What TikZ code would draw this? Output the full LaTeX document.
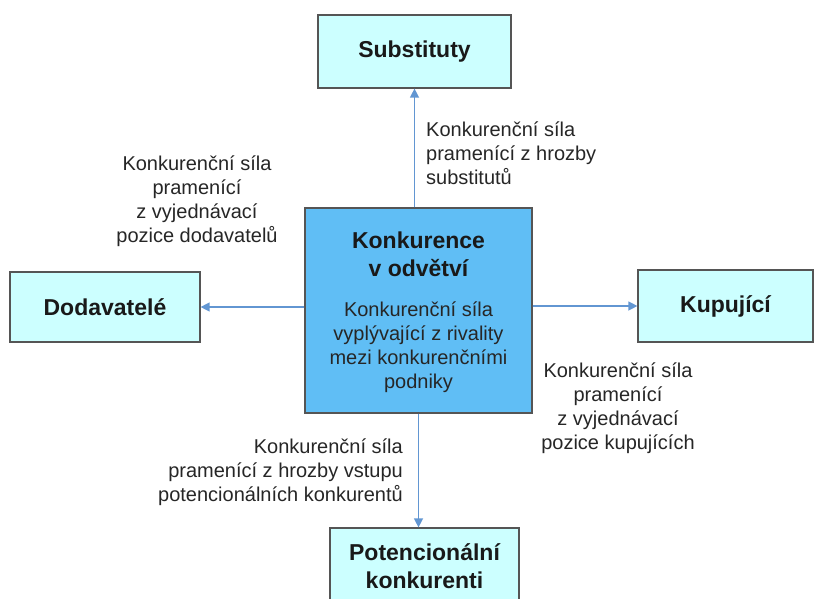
\documentclass[tikz,border=0pt]{standalone}
\usepackage{fontspec}
\setmainfont{Liberation Sans}
\usetikzlibrary{arrows.meta}
\definecolor{boxcyan}{RGB}{204,255,255}
\definecolor{hubblue}{RGB}{96,190,245}
\definecolor{arrowblue}{RGB}{98,150,210}
\definecolor{edgegray}{RGB}{85,85,85}
\tikzstyle{force}=[rectangle, draw=edgegray, line width=1.2pt, fill=boxcyan, text=black!90, font=\bfseries\fontsize{23}{28}\selectfont, align=center]
\tikzstyle{hub}=[rectangle, draw=edgegray, line width=1.2pt, fill=hubblue]
\tikzstyle{note}=[font=\fontsize{20}{24}\selectfont, text=black!85, inner sep=0pt]
\tikzstyle{pull}=[-{Triangle[length=9pt,width=9pt]}, draw=arrowblue, fill=arrowblue, line width=1.3pt]

\begin{document}
\begin{tikzpicture}[x=1pt,y=-1pt]
  \useasboundingbox (0,0) rectangle (816,599);
  % the five forces
  \node[force, minimum width=193pt, minimum height=73pt] (subst) at (414.5,51.5) {Substituty};
  \node[force, minimum width=190pt, minimum height=70pt] (dodav) at (105,307) {Dodavatelé};
  \node[force, minimum width=175pt, minimum height=72pt] (kupuj) at (725.5,306) {Kupující};
  \node[force, minimum width=189pt, minimum height=76pt] (potenc) at (424.5,566) {Potencionální\\konkurenti};
  \node[hub, minimum width=227pt, minimum height=205pt] (konk) at (418.5,310.5) {};
  \node[note, font=\bfseries\fontsize{23}{28}\selectfont, text=black!90, align=center] (konktitle) at (418.5,254) {Konkurence\\v odvětví};
  \node[note, align=center] (konkbody) at (418.5,347) {Konkurenční síla\\vyplývající z rivality\\mezi konkurenčními\\podniky};
  % labels
  \node[note, align=left, anchor=west] (lblsubst) at (426,153) {Konkurenční síla\\pramenící z hrozby\\substitutů};
  \node[note, align=center] (lbldodav) at (197,201) {Konkurenční síla\\pramenící\\z vyjednávací\\pozice dodavatelů};
  \node[note, align=center] (lblkupuj) at (618,408) {Konkurenční síla\\pramenící\\z vyjednávací\\pozice kupujících};
  \node[note, align=right, anchor=east] (lblpotenc) at (403,472) {Konkurenční síla\\pramenící z hrozby vstupu\\potencionálních konkurentů};
  % arrows
  \draw[pull] (konk.north -| subst.south) -- (subst.south);
  \draw[pull] (konk.west |- dodav.east) -- (dodav.east);
  \draw[pull] (konk.east |- kupuj.west) -- (kupuj.west);
  \draw[pull] (konk.south) -- (konk.south |- potenc.north);
\end{tikzpicture}
\end{document}
